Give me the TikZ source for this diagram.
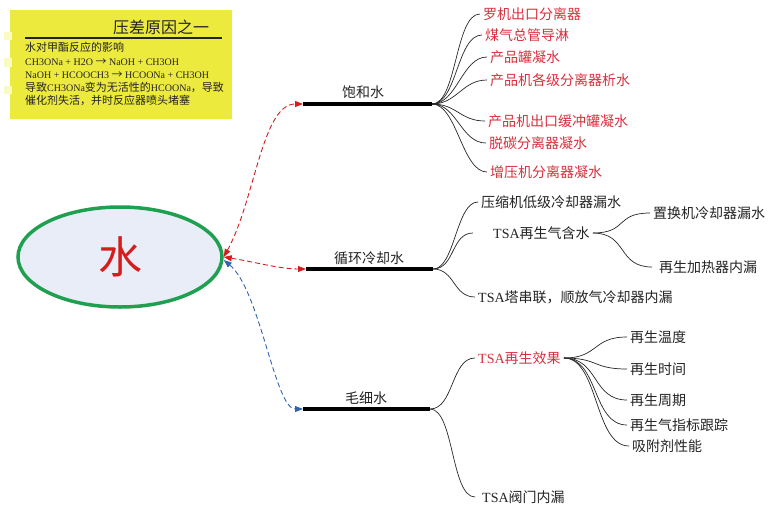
\documentclass[tikz,border=0pt]{standalone}
\usepackage{fontspec}
\setmainfont{Liberation Serif}
\newfontfamily\cjk{Noto Sans CJK SC}
\usetikzlibrary{arrows.meta,shapes.geometric}
\definecolor{redtxt}{RGB}{214,48,60}
\definecolor{txt}{RGB}{35,35,35}
\definecolor{ared}{RGB}{212,30,30}
\definecolor{ablue}{RGB}{50,100,170}
\definecolor{egreen}{RGB}{30,160,80}
\definecolor{efill}{RGB}{232,237,248}
\definecolor{ybox}{RGB}{237,234,62}
\definecolor{ynotch}{RGB}{250,250,195}
\newcommand\latsm[1]{{\rmfamily\fontsize{10}{13}\selectfont #1}}
\begin{document}
\begin{tikzpicture}[x=1pt,y=-1pt,
  lab/.style={font=\cjk\fontsize{14}{16}\selectfont, inner xsep=3pt, inner ysep=0pt, text height=12pt, text depth=2pt, anchor=west, text=txt},
  rlab/.style={lab, text=redtxt},
  conn/.style={line width=0.7pt, black!85},
  branchbar/.style={line width=4pt, black},
  darrow/.style={dash pattern=on 5pt off 3pt, line width=0.9pt, {Triangle[length=8pt,width=6pt]}-{Triangle[length=8pt,width=6pt]}},
  boxtxt/.style={font=\cjk\fontsize{11}{13}\selectfont, anchor=west, inner sep=0pt, text height=9pt, text depth=2pt, text=txt},
  mainlab/.style={font=\cjk\fontsize{14}{16}\selectfont, inner sep=0pt, text=txt}
]
\useasboundingbox (0,0) rectangle (774,528);

% yellow note box
\fill[ybox] (10,10) rectangle (232,119);
\fill[ynotch] (4,32) rectangle (12,40);
\fill[ynotch] (4,58) rectangle (12,67);
\fill[ynotch] (4,86) rectangle (12,94);
\node[font=\cjk\fontsize{16}{18}\selectfont, anchor=west, inner sep=0pt, text=txt] (title) at (113,27) {压差原因之一};
\draw[line width=1.2pt, txt] (25,38) -- (222,38);
\node[boxtxt] (l1) at (25,48) {水对甲酯反应的影响};
\node[boxtxt] (l2) at (25,62) {\latsm{CH3ONa + H2O }→\latsm{ NaOH + CH3OH}};
\node[boxtxt] (l3) at (25,75) {\latsm{NaOH + HCOOCH3 }→\latsm{ HCOONa + CH3OH}};
\node[boxtxt] (l4) at (25,88) {导致\latsm{CH3ONa}变为无活性的\latsm{HCOONa}，导致};
\node[boxtxt] (l5) at (25,101) {催化剂失活，并时反应器喷头堵塞};

% central ellipse
\node[ellipse, draw=egreen, fill=efill, line width=3.5pt, minimum width=204pt, minimum height=100pt, inner sep=0pt] (water) at (120,257) {\cjk\fontsize{44}{44}\selectfont\color{ared}水};

% branch bars
\coordinate (b1s) at (303,104); \coordinate (b1e) at (432,104);
\coordinate (b2s) at (306,269); \coordinate (b2e) at (433,269);
\coordinate (b3s) at (303,409); \coordinate (b3e) at (430,409);
\draw[branchbar] (b1s) -- (b1e);
\draw[branchbar] (b2s) -- (b2e);
\draw[branchbar] (b3s) -- (b3e);
\node[mainlab] (m1) at (363,92) {饱和水};
\node[mainlab] (m2) at (369,258) {循环冷却水};
\node[mainlab] (m3) at (366,398) {毛细水};

% dashed arrows
\draw[darrow, draw=ared] (water.east) .. controls (255,200) and (262,104) .. (b1s);
\draw[darrow, draw=ared] (water.east) .. controls (255,262) and (280,269) .. (b2s);
\draw[darrow, draw=ablue] ([yshift=-3pt]water.east) .. controls (260,290) and (275,409) .. (b3s);

% group 1
\node[rlab] (c11) at (480,14) {罗机出口分离器};
\node[rlab] (c12) at (482,35) {煤气总管导淋};
\node[rlab] (c13) at (487,57) {产品罐凝水};
\node[rlab] (c14) at (487,80) {产品机各级分离器析水};
\node[rlab] (c15) at (485,121) {产品机出口缓冲罐凝水};
\node[rlab] (c16) at (486,143) {脱碳分离器凝水};
\node[rlab] (c17) at (487,172) {增压机分离器凝水};
\foreach \c in {c11,c12,c13,c14,c15,c16,c17}
  \draw[conn] (b1e) .. controls +(25,0) and +(-25,0) .. (\c.west);

% group 2
\node[lab] (c21) at (478,202) {压缩机低级冷却器漏水};
\node[lab] (c22) at (473,233) {\hspace*{17pt}{\rmfamily TSA}再生气含水};
\node[lab] (c23) at (475,297) {{\rmfamily TSA}塔串联，顺放气冷却器内漏};
\foreach \c in {c21,c22,c23}
  \draw[conn] (b2e) .. controls +(22,0) and +(-22,0) .. (\c.west);
\node[lab] (c221) at (650,213) {置换机冷却器漏水};
\node[lab] (c222) at (652,267) {\hspace*{4pt}再生加热器内漏};
\foreach \c in {c221,c222}
  \draw[conn] (c22.east) .. controls +(35,0) and +(-35,0) .. (\c.west);

% group 3
\node[rlab] (c31) at (475,358) {{\rmfamily TSA}再生效果};
\node[lab] (c32) at (475,497) {\hspace*{4pt}{\rmfamily TSA}阀门内漏};
\foreach \c in {c31,c32}
  \draw[conn] (b3e) .. controls +(24,0) and +(-24,0) .. (\c.west);
\node[lab] (c311) at (627,337) {再生温度};
\node[lab] (c312) at (627,369) {再生时间};
\node[lab] (c313) at (627,400) {再生周期};
\node[lab] (c314) at (627,425) {再生气指标跟踪};
\node[lab] (c315) at (629,446) {吸附剂性能};
\foreach \c in {c311,c312,c313,c314,c315}
  \draw[conn] (c31.east) .. controls +(35,0) and +(-35,0) .. (\c.west);
\end{tikzpicture}
\end{document}
